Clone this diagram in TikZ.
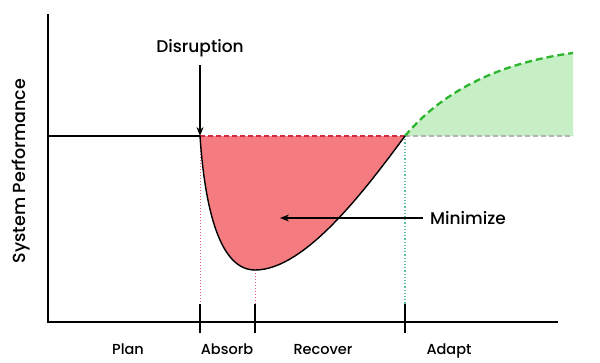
\documentclass[tikz,border=0pt]{standalone}
\usepackage{fontspec}
\setmainfont{Poppins}[UprightFont={* Medium}]
\usetikzlibrary{arrows.meta}
\definecolor{redfill}{HTML}{F47C80}
\definecolor{reddash}{HTML}{D02A40}
\definecolor{reddot}{HTML}{E0607A}
\definecolor{greenfill}{HTML}{C6EFC6}
\definecolor{greendash}{HTML}{2DB52D}
\definecolor{greendot}{HTML}{5BBFA8}
\tikzset{
  axis/.style={line width=1.8pt, black},
  tickmark/.style={line width=1.8pt, black},
  lbl/.style={font=\fontsize{14.5}{17}\selectfont, inner sep=0pt},
  biglbl/.style={font=\fontsize{17}{20}\selectfont, inner sep=0pt},
  arr/.style={line width=1.3pt, -{Stealth[length=9pt,width=7pt]}},
}
\begin{document}
\begin{tikzpicture}[x=1pt,y=1pt]
\useasboundingbox (0,0) rectangle (600,-362);
% coordinates
\coordinate (O) at (48,-322);
\coordinate (Ytop) at (48,-14);
\coordinate (Xend) at (558,-322);
\coordinate (D) at (200,-136);
\coordinate (M) at (255,-270);
\coordinate (R) at (405,-136);
\coordinate (G) at (573,-53);
\coordinate (Gb) at (573,-136);
% fills
\fill[redfill] (D) .. controls (205,-210) and (220,-270) .. (M) .. controls (305,-270) and (365,-190) .. (R) -- cycle;
\fill[greenfill] (R) .. controls (445,-88) and (505,-62) .. (G) -- (Gb) -- cycle;
% dashed lines
\draw[reddash, line width=1.7pt, dash pattern=on 5pt off 3pt] (D) -- (R);
\draw[black!30, line width=1.5pt, dash pattern=on 5pt off 3pt] (R) -- (Gb);
\draw[greendash, line width=2.3pt, dash pattern=on 7pt off 4pt] (R) .. controls (445,-88) and (505,-62) .. (G);
% dotted verticals
\coordinate (T1) at (200,-304);
\coordinate (T2) at (255,-304);
\coordinate (T3) at (405,-304);
\draw[reddot, line width=1pt, dotted] (D) -- (T1);
\draw[reddot, line width=1pt, dotted] (M) -- (T2);
\draw[greendot, line width=1.2pt, dotted] (R) -- (T3);
% curve
\draw[black, line width=1.4pt] (D) .. controls (205,-210) and (220,-270) .. (M) .. controls (305,-270) and (365,-190) .. (R);
% baseline
\draw[black, line width=1.4pt] (48,-136) -- (D);
% axes
\draw[axis] (Ytop) -- (O) -- (Xend);
% ticks
\draw[tickmark] (T1) -- (200,-333);
\draw[tickmark] (T2) -- (255,-333);
\draw[tickmark] (T3) -- (405,-333);
% labels
\node[biglbl, anchor=base] (dis) at (200,-52) {Disruption};
\coordinate (disS) at (200,-65);
\draw[arr] (disS) -- (D);
\node[biglbl, anchor=base west] (min) at (430,-224) {Minimize};
\coordinate (minT) at (280,-218);
\draw[arr] (423,-218) -- (minT);
\node[lbl, anchor=base] (plan) at (128,-354) {Plan};
\node[lbl, anchor=base] (abs) at (227,-354) {Absorb};
\node[lbl, anchor=base] (rec) at (323,-354) {Recover};
\node[lbl, anchor=base] (ada) at (449,-354) {Adapt};
\node[font=\fontsize{17.5}{20}\selectfont, inner sep=0pt, rotate=90, anchor=base] (sp) at (25,-171) {System Performance};
\end{tikzpicture}
\end{document}
